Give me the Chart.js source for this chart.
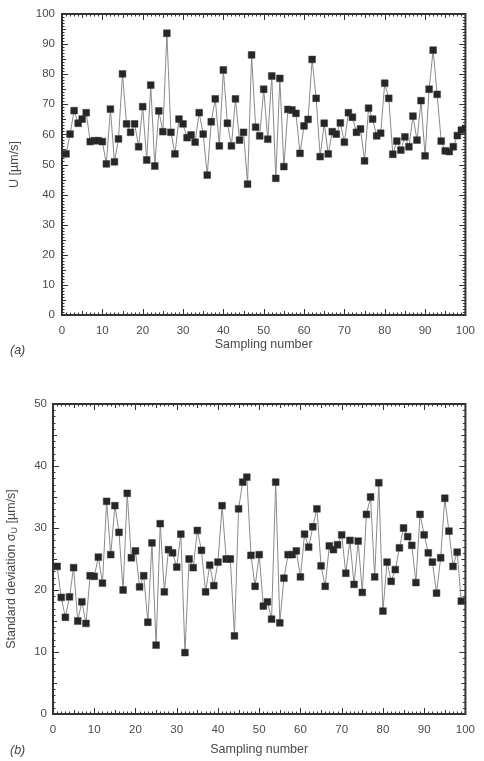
<!DOCTYPE html>
<html>
<head>
<meta charset="utf-8">
<script src="https://cdn.jsdelivr.net/npm/chart.js@4.4.1/dist/chart.umd.min.js"></script>
<style>
body { margin: 0; background: #fff; width: 484px; height: 761px; overflow: hidden; position: relative; font-family: "Liberation Sans", Arial, sans-serif; }
canvas { position: absolute; left: 0; }
#chartU { top: 0; }
#chartSD { top: 380px; }
.panel { position: absolute; left: 10px; font-style: italic; font-size: 12.5px; color: #444; }
</style>
</head>
<body>
<canvas id="chartU" width="484" height="362"></canvas>
<canvas id="chartSD" width="484" height="381"></canvas>
<div class="panel" style="top:343px">(a)</div>
<div class="panel" style="top:743px">(b)</div>
<script>
var sampleTicks = [0, 10, 20, 30, 40, 50, 60, 70, 80, 90, 100];
var uTicks = [0, 10, 20, 30, 40, 50, 60, 70, 80, 90, 100];
var sdTicks = [0, 10, 20, 30, 40, 50];

// mean velocity U [um/s], sampling numbers 1..100
var meanU = [
	53.5, 60.1, 67.9, 63.7, 65.1, 67.2, 57.6, 57.9, 57.9, 57.6,
	50.2, 68.4, 50.9, 58.5, 80.1, 63.5, 60.7, 63.5, 55.9, 69.2,
	51.5, 76.4, 49.5, 67.8, 60.9, 93.6, 60.7, 53.5, 65.1, 63.5,
	58.9, 59.8, 57.4, 67.2, 60.1, 46.5, 64.2, 71.8, 56.2, 81.4,
	63.7, 56.2, 71.8, 58.1, 60.7, 43.5, 86.4, 62.4, 59.5, 75.0,
	58.4, 79.4, 45.4, 78.6, 49.3, 68.3, 68.1, 67.0, 53.7, 62.8,
	65.0, 84.9, 72.0, 52.6, 63.7, 53.5, 60.9, 60.1, 63.8, 57.4,
	67.2, 65.7, 60.7, 61.8, 51.2, 68.7, 65.1, 59.5, 60.4, 77.0,
	72.0, 53.4, 57.8, 54.8, 59.2, 55.9, 66.1, 58.1, 71.2, 52.9,
	75.0, 88.0, 73.3, 57.8, 54.5, 54.3, 55.9, 59.6, 61.4, 62.0
];

// standard deviation sigma_U [um/s]
var sigmaU = [
	23.8, 18.8, 15.6, 18.9, 23.6, 15.0, 18.1, 14.6, 22.3, 22.2,
	25.3, 21.1, 34.3, 25.7, 33.6, 29.3, 20.0, 35.6, 25.2, 26.3,
	20.5, 22.3, 14.8, 27.6, 11.1, 30.7, 19.7, 26.5, 26.0, 23.7,
	29.0, 9.9, 25.0, 23.6, 29.6, 26.4, 19.7, 24.0, 20.7, 24.5,
	33.6, 25.0, 25.0, 12.6, 33.1, 37.4, 38.2, 25.6, 20.6, 25.7,
	17.4, 18.1, 15.3, 37.4, 14.7, 21.9, 25.7, 25.7, 26.3, 22.1,
	29.0, 26.9, 30.2, 33.1, 23.9, 20.6, 27.1, 26.5, 27.3, 28.9,
	22.7, 28.0, 20.9, 27.9, 19.6, 32.2, 35.0, 22.1, 37.3, 16.6,
	24.5, 21.4, 23.3, 26.8, 30.0, 28.6, 27.2, 21.2, 32.2, 28.9,
	26.0, 24.5, 19.5, 25.2, 34.8, 29.5, 23.8, 26.1, 18.2
];

var textColor = "#4a4a4a";
var fontFamily = '"Liberation Sans", Arial, sans-serif';

function toPoints(arr) {
	return arr.map(function(v, i) { return { x: i + 1, y: v }; });
}

function fixedTicks(list) {
	return function(scale) {
		scale.ticks = list.map(function(v) { return { value: v }; });
	};
}

// boxed frame with inward major/minor ticks on all four sides
var frameTicks = {
	id: "frameTicks",
	beforeDatasetsDraw: function(chart) {
		var ctx = chart.ctx, a = chart.chartArea;
		var xs = chart.scales.x, ys = chart.scales.y;
		var v, p, len;
		ctx.save();
		ctx.strokeStyle = "#333";
		ctx.lineWidth = 1;
		ctx.beginPath();
		for (v = xs.min; v <= xs.max; v++) {
			p = Math.round(xs.getPixelForValue(v)) + 0.5;
			len = v % 10 === 0 ? 6 : (v % 5 === 0 ? 4 : 2.5);
			ctx.moveTo(p, a.bottom); ctx.lineTo(p, a.bottom - len);
			ctx.moveTo(p, a.top); ctx.lineTo(p, a.top + len);
		}
		for (v = ys.min; v <= ys.max; v++) {
			p = Math.round(ys.getPixelForValue(v)) + 0.5;
			len = v % 10 === 0 ? 6 : (v % 5 === 0 ? 4 : 2.5);
			ctx.moveTo(a.left, p); ctx.lineTo(a.left + len, p);
			ctx.moveTo(a.right, p); ctx.lineTo(a.right - len, p);
		}
		ctx.stroke();
		ctx.lineWidth = 2;
		ctx.strokeRect(a.left, a.top, a.right - a.left, a.bottom - a.top);
		ctx.restore();
	}
};

// y title with subscript U for the sigma panel
var sdTitle = {
	id: "sdTitle",
	afterDraw: function(chart) {
		var ctx = chart.ctx, a = chart.chartArea;
		var big = "12.5px " + fontFamily, small = "9px " + fontFamily;
		var parts = [["Standard deviation \u03c3", big, 0], ["U", small, 3], [" [\u00b5m/s]", big, 0]];
		var total = 0, i, pos;
		ctx.save();
		for (i = 0; i < parts.length; i++) { ctx.font = parts[i][1]; total += ctx.measureText(parts[i][0]).width; }
		ctx.translate(12, (a.top + a.bottom) / 2 + 10);
		ctx.rotate(-Math.PI / 2);
		ctx.fillStyle = textColor;
		ctx.textBaseline = "middle";
		pos = -total / 2;
		for (i = 0; i < parts.length; i++) {
			ctx.font = parts[i][1];
			ctx.fillText(parts[i][0], pos, parts[i][2]);
			pos += ctx.measureText(parts[i][0]).width;
		}
		ctx.restore();
	}
};

function makeOptions(yMax, yList, yWidth, xHeight, pad, xTitlePad, yTitle) {
	return {
		responsive: false,
		animation: false,
		devicePixelRatio: 1,
		layout: { padding: pad },
		plugins: { legend: { display: false }, tooltip: { enabled: false } },
		scales: {
			x: {
				type: "linear", min: 0, max: 100,
				afterBuildTicks: fixedTicks(sampleTicks),
				afterFit: function(s) { s.height = xHeight; },
				grid: { display: false, drawTicks: false },
				border: { display: false },
				ticks: { color: textColor, font: { family: fontFamily, size: 11.5 }, padding: 9, maxRotation: 0 },
				title: { display: true, text: "Sampling number", color: textColor,
					font: { family: fontFamily, size: 12.5, lineHeight: 1.2 }, padding: { top: 0, bottom: xTitlePad } }
			},
			y: {
				min: 0, max: yMax,
				afterBuildTicks: fixedTicks(yList),
				afterFit: function(s) { s.width = yWidth; },
				grid: { display: false, drawTicks: false },
				border: { display: false },
				ticks: { color: textColor, font: { family: fontFamily, size: 11.5 }, padding: 7 },
				title: { display: !!yTitle, text: yTitle || "", color: textColor,
					font: { family: fontFamily, size: 12.5, lineHeight: 1.2 }, padding: { top: 7.5, bottom: 0 } }
			}
		}
	};
}

function makeDataset(values) {
	return {
		data: toPoints(values),
		borderColor: "#8a8a8a",
		borderWidth: 1,
		pointStyle: "rect",
		pointRadius: 4.8,
		pointBackgroundColor: "#262626",
		pointBorderColor: "#3a3a3a",
		pointBorderWidth: 0.5,
		tension: 0
	};
}

function Init() {
	new Chart(document.getElementById("chartU"), {
		type: "line",
		data: { datasets: [makeDataset(meanU)] },
		options: makeOptions(100, uTicks, 62, 47, { top: 14, right: 9, left: 0, bottom: 0 }, 9.5, "U [\u00b5m/s]"),
		plugins: [frameTicks]
	});

	var sdOpts = makeOptions(50, sdTicks, 53, 47, { top: 24, right: 11, left: 0, bottom: 0 }, 3.5, null);
	sdOpts.scales.y.ticks.padding = 6;
	new Chart(document.getElementById("chartSD"), {
		type: "line",
		data: { datasets: [makeDataset(sigmaU)] },
		options: sdOpts,
		plugins: [frameTicks, sdTitle]
	});
}

Init();
</script>
</body>
</html>
